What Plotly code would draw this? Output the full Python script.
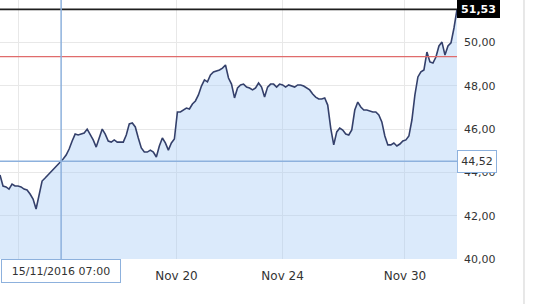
import plotly.graph_objects as go

# Price series (ordinal samples)
prices = [
    43.88, 43.37, 43.33, 43.23, 43.46, 43.37, 43.37, 43.33, 43.23, 43.19,
    43.00, 42.77, 42.31, 43.05, 43.60, 43.74, 43.88, 44.06, 44.16, 44.30,
    44.48, 44.62, 44.80, 45.08, 45.45, 45.77, 45.73, 45.77, 45.82, 46.00,
    45.77, 45.50, 45.17, 45.59, 46.00, 45.77, 45.45, 45.40, 45.50, 45.40,
    45.40, 45.40, 45.73, 46.24, 46.28, 46.10, 45.59, 45.13, 44.94, 44.94,
    45.03, 44.94, 44.71, 45.22, 45.59, 45.36, 45.03, 45.36, 45.54, 46.79,
    46.79, 46.88, 46.97, 46.93, 47.16, 47.30, 47.58, 47.99, 48.27, 48.18,
    48.50, 48.64, 48.68, 48.73, 48.82, 48.96, 48.36, 48.08, 47.44, 47.90,
    48.04, 48.08, 47.94, 47.90, 47.81, 47.90, 48.13, 47.94, 47.48, 47.94,
    48.08, 48.08, 47.94, 48.08, 48.04, 47.94, 48.04, 47.99, 47.94, 48.04,
    48.04, 47.99, 47.90, 47.81, 47.62, 47.48, 47.39, 47.39, 47.44, 47.11,
    46.05, 45.27, 45.87, 46.05, 45.96, 45.77, 45.73, 45.96, 46.88, 47.25,
    47.02, 46.88, 46.88, 46.84, 46.79, 46.79, 46.65, 46.33, 45.68, 45.27,
    45.27, 45.36, 45.22, 45.31, 45.45, 45.50, 45.68, 46.42, 47.58, 48.41,
    48.64, 48.73, 49.56, 49.10, 49.05, 49.33, 49.84, 50.02, 49.42, 49.84,
    49.98, 50.67, 51.53,
]
sample_idx = list(range(len(prices)))

x_tick_pos = [6, 58.7, 94, 134.7]
x_tick_text = ["", "Nov 20", "Nov 24", "Nov 30"]

y_tick_vals = [40, 42, 44, 46, 48, 50]
y_tick_text = ["40,00", "42,00", "44,00", "46,00", "48,00", "50,00"]

last_price = 51.53
last_label = "51,53"
ref_level = 49.35
cross_price = 44.52
cross_price_label = "44,52"
cross_idx = 20.33
cross_time_label = "15/11/2016 07:00"

FONT = "DejaVu Sans"
CROSS = "#8db1dd"

fig = go.Figure()
fig.add_trace(go.Scatter(
    x=sample_idx, y=prices, mode="lines",
    line=dict(color="#34406b", width=1.6),
    fill="tozeroy", fillcolor="rgba(160,200,245,0.38)",
    hoverinfo="skip", showlegend=False,
))

fig.update_layout(
    width=535, height=304, autosize=False,
    margin=dict(l=0, r=78, t=0, b=45),
    paper_bgcolor="white", plot_bgcolor="white",
    showlegend=False,
    xaxis=dict(
        range=[0, len(prices) - 1], tickvals=x_tick_pos, ticktext=x_tick_text,
        showgrid=True, gridcolor="#e8e8e8", gridwidth=1, zeroline=False,
        showline=False, ticks="", ticklabelstandoff=8,
        tickfont=dict(family=FONT, size=12, color="#333"),
    ),
    yaxis=dict(
        side="right", range=[40, 51.963], tickvals=y_tick_vals, ticktext=y_tick_text,
        showgrid=True, gridcolor="#e8e8e8", gridwidth=1, zeroline=False,
        showline=False, ticks="", ticklabelstandoff=6,
        tickfont=dict(family=FONT, size=11, color="#333"),
    ),
)

shapes = [
    dict(type="line", xref="paper", x0=0, x1=1, yref="y", y0=ref_level, y1=ref_level,
         line=dict(color="#e06c6c", width=1.2)),
    dict(type="line", xref="paper", x0=0, x1=1, yref="y", y0=last_price, y1=last_price,
         line=dict(color="#1e1e1e", width=1.6)),
    dict(type="line", xref="paper", x0=0, x1=1, yref="y", y0=cross_price, y1=cross_price,
         line=dict(color=CROSS, width=1.5)),
    dict(type="line", xref="x", x0=cross_idx, x1=cross_idx, yref="paper", y0=0, y1=1,
         line=dict(color=CROSS, width=1.5)),
    dict(type="line", xref="paper", x0=1.1466, x1=1.1466, yref="paper", y0=-0.18, y1=1,
         line=dict(color="#d0d0d0", width=1)),
]
fig.update_layout(shapes=shapes)

fig.add_annotation(
    xref="paper", x=1, xanchor="left", yref="y", y=last_price, yanchor="middle",
    text="<b>" + last_label + "</b>", showarrow=False,
    font=dict(family=FONT, size=11, color="white"),
    bgcolor="black", bordercolor="black", borderwidth=1, borderpad=2,
    width=37, height=12,
)
fig.add_annotation(
    xref="paper", x=1, xanchor="left", yref="y", y=cross_price, yanchor="middle",
    text=cross_price_label, showarrow=False,
    font=dict(family=FONT, size=11, color="#333"),
    bgcolor="white", bordercolor=CROSS, borderwidth=1, borderpad=3,
    width=32, height=15,
)
fig.add_annotation(
    xref="x", x=cross_idx, xanchor="center", yref="paper", y=0, yanchor="top",
    text=cross_time_label, showarrow=False,
    font=dict(family=FONT, size=11, color="#333"),
    bgcolor="white", bordercolor=CROSS, borderwidth=1, borderpad=3,
    width=112, height=16,
)

fig.write_html("out.html")
